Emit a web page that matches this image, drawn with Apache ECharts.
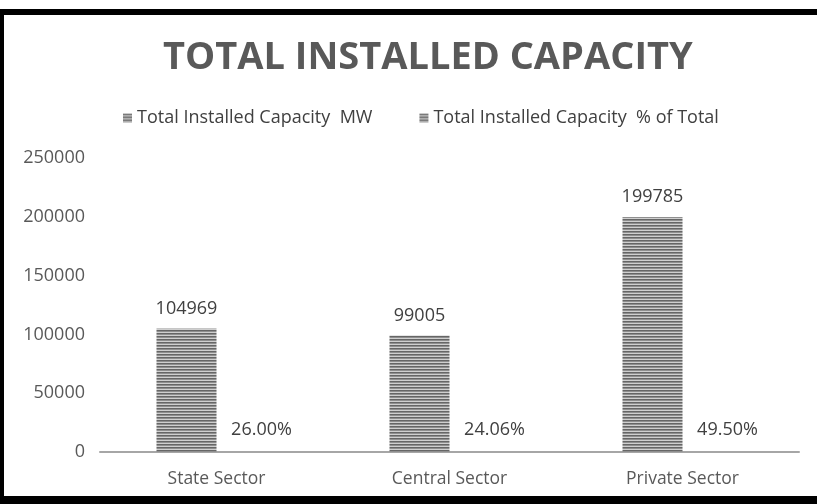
<!DOCTYPE html>
<html>
<head>
<meta charset="utf-8">
<script src="https://cdn.jsdelivr.net/npm/echarts@6/dist/echarts.min.js"></script>
<style>
  html, body { margin: 0; padding: 0; background: #ffffff; }
  #chart { width: 817px; height: 504px; position: absolute; left: 0; top: 0; }
  /* black frame round the picture */
  #frame {
    position: absolute; left: 0; top: 9px; width: 830px; height: 481px;
    border-left: 4px solid #000; border-top: 6px solid #000; border-bottom: 8px solid #000;
    pointer-events: none;
  }
</style>
</head>
<body>
<div id="chart"></div>
<div id="frame"></div>
<script>
const categories = ['State Sector', 'Central Sector', 'Private Sector'];
const capacityMW = [104969, 99005, 199785];
const percentOfTotal = [26.00, 24.06, 49.50];
const seriesNames = ['Total Installed Capacity  MW', 'Total Installed Capacity  % of Total'];

// horizontal stripe fill like the original bars
function stripes() {
  const c = document.createElement('canvas');
  c.width = 4; c.height = 3;
  const ctx = c.getContext('2d');
  const rows = ['#666666', '#8f8f8f', '#cfcfcf'];
  rows.forEach((col, i) => { ctx.fillStyle = col; ctx.fillRect(0, i, 4, 1); });
  return c;
}
const fill = { image: stripes(), repeat: 'repeat' };

const chart = echarts.init(document.getElementById('chart'));

const option = {
  backgroundColor: '#ffffff',
  animation: false,
  title: {
    text: 'TOTAL INSTALLED CAPACITY',
    left: 158,
    top: 34,
    textStyle: {
      fontFamily: 'Open Sans',
      fontWeight: 'bold',
      fontSize: 38,
      color: '#595959'
    }
  },
  legend: {
    top: 104,
    left: 118,
    itemGap: 47,
    itemWidth: 9,
    itemHeight: 9,
    icon: 'rect',
    textStyle: { fontFamily: 'Open Sans', fontSize: 18, color: '#404040' },
    data: seriesNames
  },
  grid: { left: 100, right: 18, top: 158, bottom: 52 },
  xAxis: {
    type: 'category',
    data: categories,
    axisTick: { show: false },
    axisLine: { lineStyle: { color: '#a6a6a6', width: 2 } },
    axisLabel: { fontFamily: 'Open Sans', fontSize: 17.5, color: '#595959', margin: 18 }
  },
  yAxis: {
    type: 'value',
    min: 0,
    max: 250000,
    interval: 50000,
    splitLine: { show: false },
    axisLine: { show: false },
    axisLabel: {
      fontFamily: 'Open Sans',
      fontSize: 18,
      color: '#595959',
      margin: 15,
      formatter: v => String(v)
    }
  },
  series: [
    {
      name: seriesNames[0],
      type: 'bar',
      data: capacityMW,
      barWidth: 60,
      barGap: '0%',
      itemStyle: { color: fill },
      label: {
        show: true,
        position: 'top',
        distance: 11,
        fontFamily: 'Open Sans',
        fontSize: 18,
        color: '#404040'
      }
    },
    {
      name: seriesNames[1],
      type: 'bar',
      data: percentOfTotal,
      barWidth: 60,
      itemStyle: { color: fill },
      label: {
        show: true,
        position: 'top',
        distance: 13,
        offset: [15, 0],
        fontFamily: 'Open Sans',
        fontSize: 18,
        color: '#404040',
        formatter: p => p.value.toFixed(2) + '%'
      }
    }
  ]
};

chart.setOption(option);
</script>
</body>
</html>
